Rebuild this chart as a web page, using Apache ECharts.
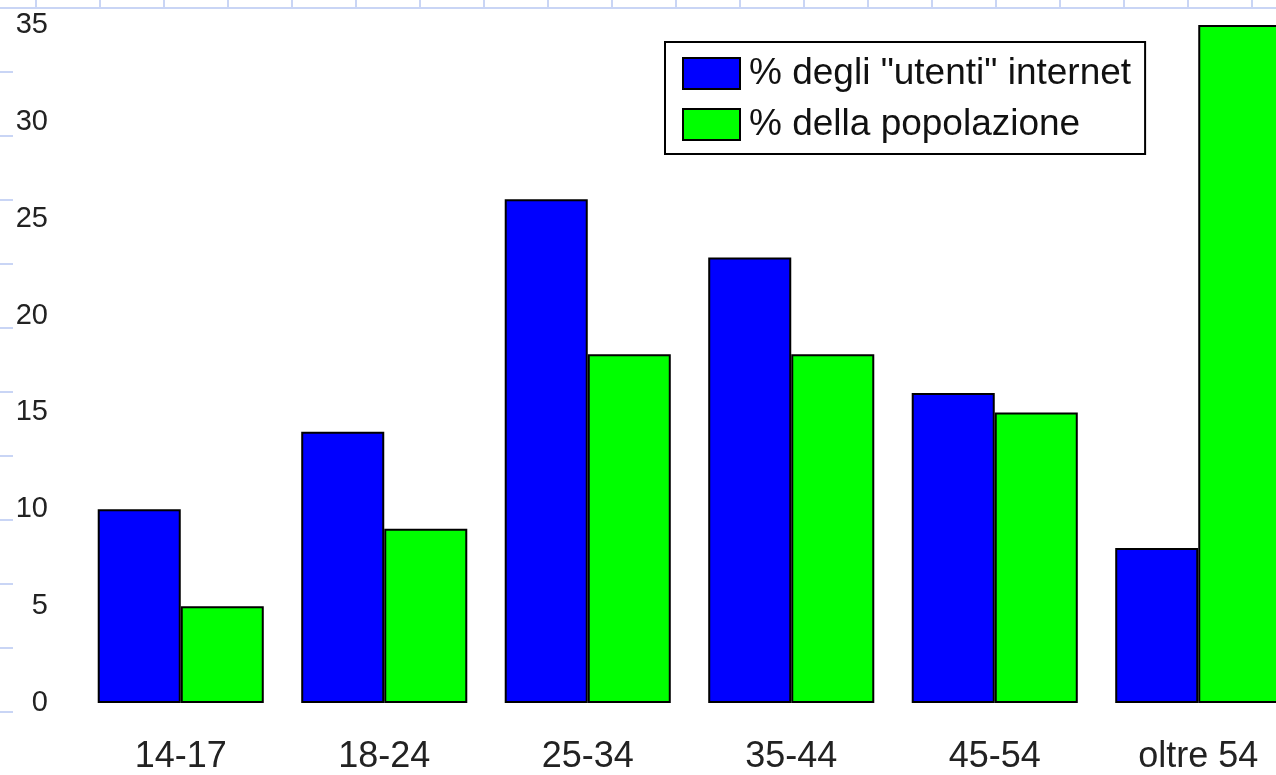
<!DOCTYPE html>
<html><head><meta charset="utf-8">
<script src="https://cdn.jsdelivr.net/npm/echarts@6/dist/echarts.min.js"></script>
<style>html,body{margin:0;padding:0;background:#fff}#c{width:1276px;height:775px}</style>
</head><body><div id="c"></div>
<script>
const categories = ['14-17','18-24','25-34','35-44','45-54','oltre 54'];
const utenti = [10, 14, 26, 23, 16, 8];
const popolazione = [5, 9, 18, 18, 15, 35];
const yTicks = [0, 5, 10, 15, 20, 25, 30, 35];
const seriesNames = ['% degli "utenti" internet', '% della popolazione'];

// faint spreadsheet grid decoration
const deco = [];
const gc = '#c9d5f5';
deco.push({type:'line', shape:{x1:0,y1:8,x2:1276,y2:8}, style:{stroke:gc,lineWidth:2}, z:-1});
for (let x = 36; x < 1276; x += 64) deco.push({type:'line', shape:{x1:x,y1:0,x2:x,y2:8}, style:{stroke:gc,lineWidth:2}, z:-1});
for (let y = 8; y < 775; y += 64) deco.push({type:'line', shape:{x1:0,y1:y,x2:13,y2:y}, style:{stroke:gc,lineWidth:2}, z:-1});

const chart = echarts.init(document.getElementById('c'));
chart.setOption({
  animation: false,
  backgroundColor: '#ffffff',
  graphic: deco,
  grid: {left: 79, top: 25, right: -24, bottom: 72, containLabel: false, outerBoundsMode: 'none'},
  legend: {
    orient: 'vertical', left: 665, top: 42,
    padding: [13, 14, 11, 17],
    itemWidth: 57, itemHeight: 31, itemGap: 14,
    icon: 'rect',
    borderColor: '#000', borderWidth: 2, backgroundColor: '#fff',
    textStyle: {fontFamily: 'Liberation Sans', fontSize: 37, lineHeight: 31, color: '#111', padding: [0,0,0,4]},
    data: seriesNames
  },
  xAxis: {
    type: 'category', data: categories,
    axisLine: {show: false}, axisTick: {show: false},
    axisLabel: {fontFamily: 'Liberation Sans', fontSize: 36, color: '#222', margin: 36}
  },
  yAxis: {
    type: 'value', min: 0, max: 35, interval: 5,
    axisLine: {show: false}, axisTick: {show: false}, splitLine: {show: false},
    axisLabel: {fontFamily: 'Liberation Sans', fontSize: 29, color: '#222', margin: 31,
      formatter: v => yTicks.includes(v) ? String(v) : ''}
  },
  series: [
    {name: seriesNames[0], type: 'bar', data: utenti, barGap: '0%', barCategoryGap: '18.4%',
     itemStyle: {color: '#0000ff', borderColor: '#000', borderWidth: 2}},
    {name: seriesNames[1], type: 'bar', data: popolazione,
     itemStyle: {color: '#00ff00', borderColor: '#000', borderWidth: 2}}
  ]
});
</script></body></html>
